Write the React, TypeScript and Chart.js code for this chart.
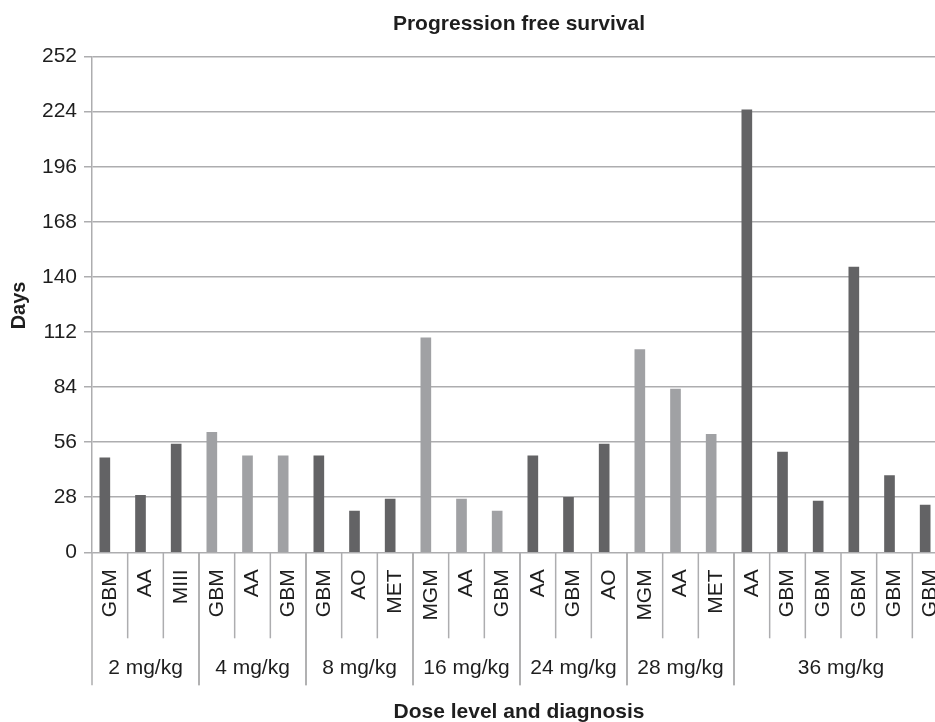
import React, { useEffect, useRef } from "react";
import { Chart, registerables } from "chart.js";

Chart.register(...registerables);

const groupLabels = ["2 mg/kg", "4 mg/kg", "8 mg/kg", "16 mg/kg", "24 mg/kg", "28 mg/kg", "36 mg/kg"];
const groupSizes = [3, 3, 3, 3, 3, 3, 6];
const diagnoses = [
  "GBM", "AA", "MIII",
  "GBM", "AA", "GBM",
  "GBM", "AO", "MET",
  "MGM", "AA", "GBM",
  "AA", "GBM", "AO",
  "MGM", "AA", "MET",
  "AA", "GBM", "GBM", "GBM", "GBM", "GBM",
];
const days = [
  48, 29, 55,
  61, 49, 49,
  49, 21, 27,
  109, 27, 21,
  49, 28, 55,
  103, 83, 60,
  225, 51, 26, 145, 39, 24,
];
const yTicks = [0, 28, 56, 84, 112, 140, 168, 196, 224, 252];
const chartTitle = "Progression free survival";
const xTitle = "Dose level and diagnosis";
const yTitle = "Days";

const DARK = "#636365";
const LIGHT = "#a0a1a4";
const GRID = "#adadaf";
const TEXT = "#1e1e1e";
const FONT = "'Liberation Sans', Arial, sans-serif";

const W = 965;
const H = 722;

export default function App() {
  const ref = useRef<HTMLCanvasElement | null>(null);

  useEffect(() => {
    if (!ref.current) return;
    const colors: string[] = [];
    groupSizes.forEach((n, g) => {
      for (let k = 0; k < n; k++) colors.push(g % 2 === 0 ? DARK : LIGHT);
    });

    const labelsPlugin = {
      id: "groupedAxis",
      afterDraw(chart: any) {
        const ctx = chart.ctx;
        const xs = chart.scales.x;
        const area = chart.chartArea;
        const bottom = area.bottom;
        const half = (xs.getPixelForValue(1) - xs.getPixelForValue(0)) / 2;
        ctx.save();
        ctx.strokeStyle = GRID;
        ctx.lineWidth = 1.5;
        ctx.fillStyle = TEXT;
        // category labels & separators
        let idx = 0;
        groupSizes.forEach((n, g) => {
          const gStart = xs.getPixelForValue(idx) - half;
          const gEnd = xs.getPixelForValue(idx + n - 1) + half;
          // group boundary lines
          ctx.beginPath();
          ctx.moveTo(gStart, bottom);
          ctx.lineTo(gStart, bottom + 133);
          ctx.moveTo(gEnd, bottom);
          ctx.lineTo(gEnd, bottom + 133);
          ctx.stroke();
          for (let k = 0; k < n; k++) {
            const i = idx + k;
            const cx = xs.getPixelForValue(i);
            if (k > 0) {
              ctx.beginPath();
              ctx.moveTo(cx - half, bottom);
              ctx.lineTo(cx - half, bottom + 86);
              ctx.stroke();
            }
            ctx.save();
            ctx.translate(cx, bottom + 17);
            ctx.rotate(-Math.PI / 2);
            ctx.font = `21px ${FONT}`;
            ctx.textAlign = "right";
            ctx.textBaseline = "middle";
            ctx.fillText(diagnoses[i], 0, 0);
            ctx.restore();
          }
          ctx.font = `21px ${FONT}`;
          ctx.textAlign = "center";
          ctx.textBaseline = "middle";
          ctx.fillText(groupLabels[g], (gStart + gEnd) / 2, bottom + 116);
          idx += n;
        });
        // titles
        const midX = (area.left + area.right) / 2 - 1;
        ctx.font = `bold 21px ${FONT}`;
        ctx.textAlign = "center";
        ctx.textBaseline = "middle";
        ctx.fillText(chartTitle, midX, 24);
        ctx.fillText(xTitle, midX, 712);
        ctx.save();
        ctx.translate(19, (area.top + area.bottom) / 2 + 1);
        ctx.rotate(-Math.PI / 2);
        ctx.font = `bold 20px ${FONT}`;
        ctx.fillText(yTitle, 0, 0);
        ctx.restore();
        ctx.restore();
      },
    };

    const chart = new Chart(ref.current, {
      type: "bar",
      data: {
        labels: diagnoses,
        datasets: [
          {
            label: "Days",
            data: days,
            backgroundColor: colors,
            borderWidth: 0,
            barThickness: 10,
          },
          {
            label: "",
            data: days.map(() => null),
            backgroundColor: "rgba(0,0,0,0)",
            borderWidth: 0,
            barThickness: 10,
          },
        ],
      },
      options: {
        animation: false,
        responsive: true,
        maintainAspectRatio: false,
        layout: { padding: { top: 56.6, right: W - 948, bottom: 0, left: 0 } },
        plugins: {
          legend: { display: false },
          title: { display: false },
          tooltip: { enabled: false },
        },
        scales: {
          x: {
            ticks: { display: false },
            grid: { display: false },
            border: { display: false },
            afterFit: (s: any) => {
              s.height = H - 552.3;
            },
          },
          y: {
            min: 0,
            max: 252,
            afterBuildTicks: (s: any) => {
              s.ticks = yTicks.map((v) => ({ value: v }));
            },
            ticks: {
              color: TEXT,
              font: { family: FONT, size: 21 },
              padding: 7,
            },
            grid: {
              color: GRID,
              lineWidth: 1.5,
              tickLength: 8,
              tickColor: GRID,
            },
            border: { display: true, color: GRID, width: 1.5 },
            afterFit: (s: any) => {
              s.width = 92;
            },
          },
        },
      },
      plugins: [labelsPlugin],
    });
    return () => chart.destroy();
  }, []);

  return (
    <div
      style={{
        position: "fixed",
        left: 0,
        top: 0,
        width: 935,
        height: H,
        overflow: "hidden",
        background: "#fff",
      }}
    >
      <div style={{ position: "absolute", left: 0, top: 0, width: W, height: H }}>
        <canvas ref={ref} />
      </div>
    </div>
  );
}
